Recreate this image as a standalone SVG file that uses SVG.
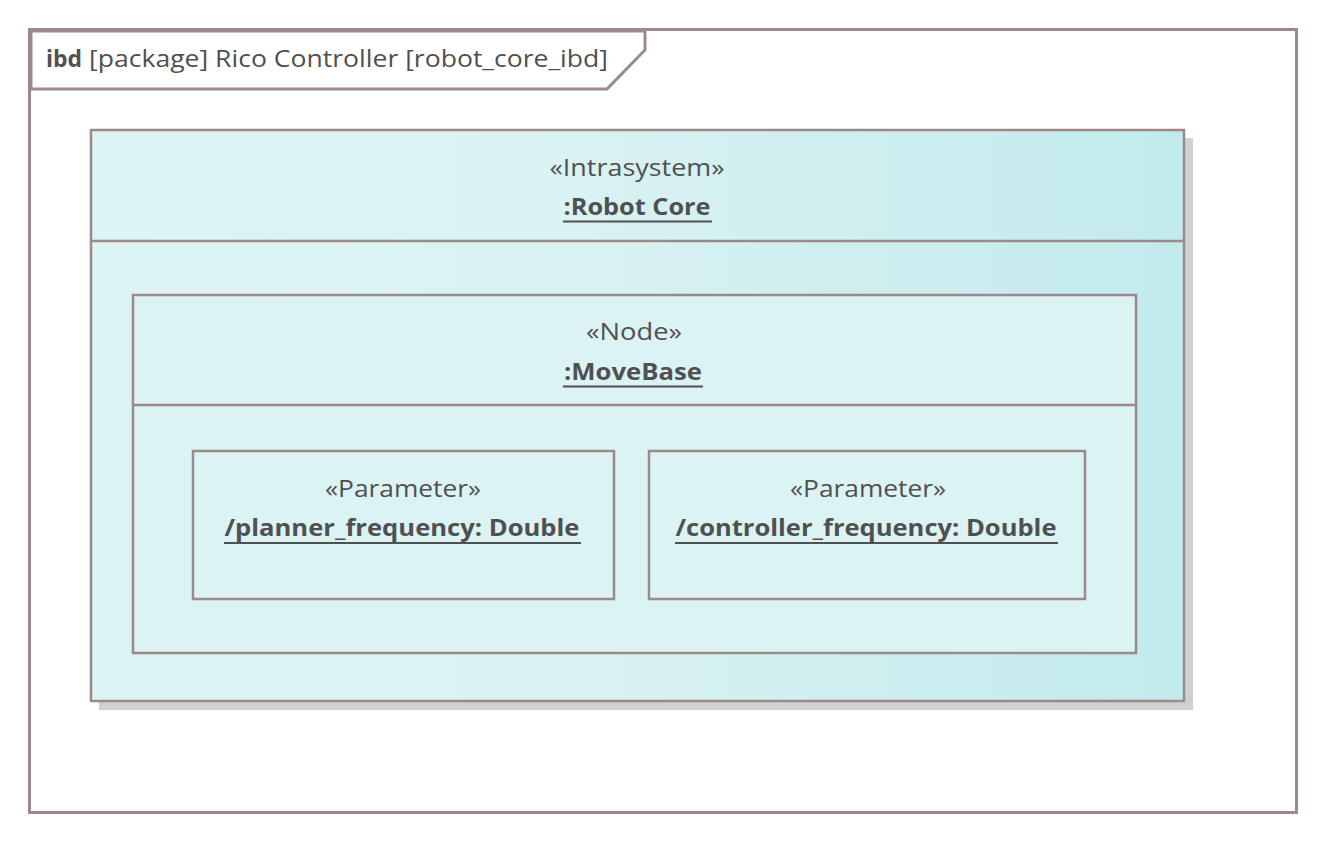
<svg xmlns="http://www.w3.org/2000/svg" width="1326" height="843" viewBox="0 0 1326 843">
<defs>
<linearGradient id="coreGrad" x1="0" y1="0" x2="1" y2="0">
<stop offset="0" stop-color="#ddf4f5"/>
<stop offset="0.45" stop-color="#d9f2f3"/>
<stop offset="1" stop-color="#c2eaec"/>
</linearGradient>
<style>
.frm{fill:#ffffff;stroke:#9c8989;stroke-width:3}
.box{stroke:#9c8989;stroke-width:2.5}
.shadow{fill:#d0d0d0}
.st{font-family:"Open Sans","Noto Sans",sans-serif;font-size:23px;fill:#505050;text-anchor:middle}
.nm{font-family:"Open Sans","Noto Sans",sans-serif;font-size:23px;font-weight:bold;fill:#505050;text-anchor:middle}
.ul{stroke:#505050;stroke-width:2}
.ttl{font-family:"Open Sans","Noto Sans",sans-serif;font-size:23px;fill:#505050}
</style>
</defs>
<rect width="1326" height="843" fill="#ffffff"/>
<g id="frame">
<rect class="frm" x="29.5" y="29.5" width="1267" height="783"/>
<path class="frm" d="M31,31 H645 V50 L607,89 H31 Z"/>
<text class="ttl" x="46" y="67"><tspan font-weight="bold" textLength="36" lengthAdjust="spacingAndGlyphs">ibd</tspan><tspan x="89" textLength="519" lengthAdjust="spacingAndGlyphs">[package] Rico Controller [robot_core_ibd]</tspan></text>
</g>
<g id="robot_core">
<rect class="shadow" x="99" y="138" width="1094" height="572"/>
<rect class="box" x="91" y="130" width="1093" height="571" fill="url(#coreGrad)"/>
<line class="box" x1="91" y1="241" x2="1184" y2="241"/>
<text class="st" x="637" y="176" textLength="175" lengthAdjust="spacingAndGlyphs">«Intrasystem»</text>
<text class="nm" x="637" y="215" textLength="147" lengthAdjust="spacingAndGlyphs">:Robot Core</text>
<line class="ul" x1="563" y1="221.5" x2="712" y2="221.5"/>
</g>
<g id="movebase">
<rect class="box" x="133" y="295" width="1003" height="358" fill="#dcf3f4"/>
<line class="box" x1="133" y1="405" x2="1136" y2="405"/>
<text class="st" x="634" y="340" textLength="96" lengthAdjust="spacingAndGlyphs">«Node»</text>
<text class="nm" x="633" y="380" textLength="138" lengthAdjust="spacingAndGlyphs">:MoveBase</text>
<line class="ul" x1="563" y1="386.5" x2="703" y2="386.5"/>
</g>
<g id="planner_frequency">
<rect class="box" x="193" y="451" width="421" height="148" fill="#dcf3f4"/>
<text class="st" x="403" y="497" textLength="156" lengthAdjust="spacingAndGlyphs">«Parameter»</text>
<text class="nm" x="402" y="536" textLength="355" lengthAdjust="spacingAndGlyphs">/planner_frequency: Double</text>
<line class="ul" x1="224" y1="543" x2="581" y2="543"/>
</g>
<g id="controller_frequency">
<rect class="box" x="649" y="451" width="436" height="148" fill="#dcf3f4"/>
<text class="st" x="868" y="497" textLength="156" lengthAdjust="spacingAndGlyphs">«Parameter»</text>
<text class="nm" x="866" y="536" textLength="381" lengthAdjust="spacingAndGlyphs">/controller_frequency: Double</text>
<line class="ul" x1="675" y1="543" x2="1058" y2="543"/>
</g>
<g id="connectors"/>
</svg>
